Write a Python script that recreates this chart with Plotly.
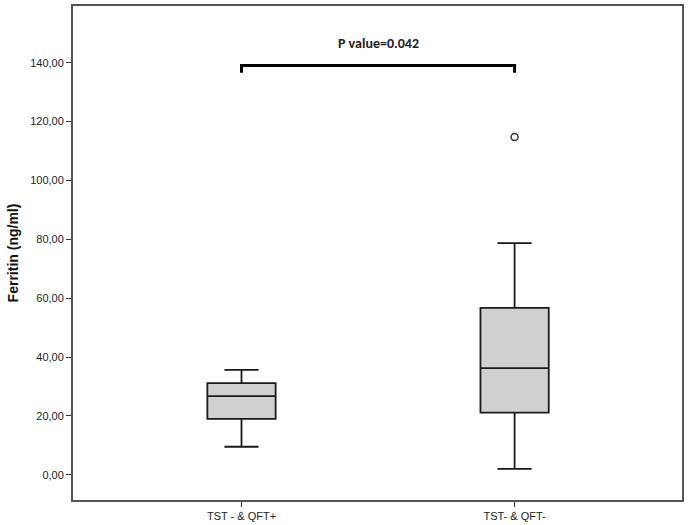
import plotly.graph_objects as go

groups = ["TST - & QFT+", "TST- & QFT-"]
lower_whisker = [9.5, 2.0]
q1 = [19.0, 21.1]
median = [26.7, 36.2]
q3 = [31.1, 56.7]
upper_whisker = [35.6, 78.7]
outlier_group = ["TST- & QFT-"]
outlier_values = [114.8]
bracket_y = [136.6, 139.1, 139.1, 136.6]
bracket_x = [groups[0], groups[0], groups[1], groups[1]]
p_label = "P value=0.042"
y_ticks = [0, 20, 40, 60, 80, 100, 120, 140]

fig = go.Figure()
fig.add_trace(go.Box(
    x=groups, q1=q1, median=median, q3=q3,
    lowerfence=lower_whisker, upperfence=upper_whisker,
    fillcolor="#d0d0d0", line=dict(color="#1a1a1a", width=1.8),
    width=0.25, whiskerwidth=0.5, boxpoints=False, showlegend=False,
    hoverinfo="skip",
))
fig.add_trace(go.Scatter(
    x=outlier_group, y=outlier_values, mode="markers",
    marker=dict(symbol="circle-open", size=7, color="#333333", line=dict(width=1.5)),
    showlegend=False,
))
fig.add_trace(go.Scatter(
    x=bracket_x, y=bracket_y, mode="lines",
    line=dict(color="black", width=3), showlegend=False,
))
fig.add_annotation(
    x=0.5, xref="x", y=146.6, yref="y", text="<b>" + p_label + "</b>",
    showarrow=False, font=dict(family="Carlito, Calibri, Arial", size=14, color="#222222"),
)

fig.update_layout(
    width=688, height=525,
    margin=dict(l=73, r=6, t=6, b=25),
    plot_bgcolor="white", paper_bgcolor="white",
    separators=",.",
    font=dict(family="Arial", size=11, color="#222222"),
)
fig.update_xaxes(
    type="category", range=[-0.617, 1.613], automargin=False,
    showline=True, mirror=True, linecolor="#555555", linewidth=2,
    ticks="outside", ticklen=5, tickcolor="#333333",
    showgrid=False, zeroline=False, tickfont=dict(size=11),
)
fig.update_yaxes(
    range=[-8.6, 159.3], tickvals=y_ticks, tickformat=".2f", automargin=False,
    showline=True, mirror=True, linecolor="#555555", linewidth=2,
    ticks="outside", ticklen=5, tickcolor="#333333",
    showgrid=False, zeroline=False, tickfont=dict(size=11),
    title=dict(text="<b>Ferritin (ng/ml)</b>", font=dict(size=14, color="#111111"), standoff=8),
)

fig.write_html("out.html", config={"displayModeBar": False},
               post_script="document.body.style.margin='0';document.body.style.overflow='hidden';")
